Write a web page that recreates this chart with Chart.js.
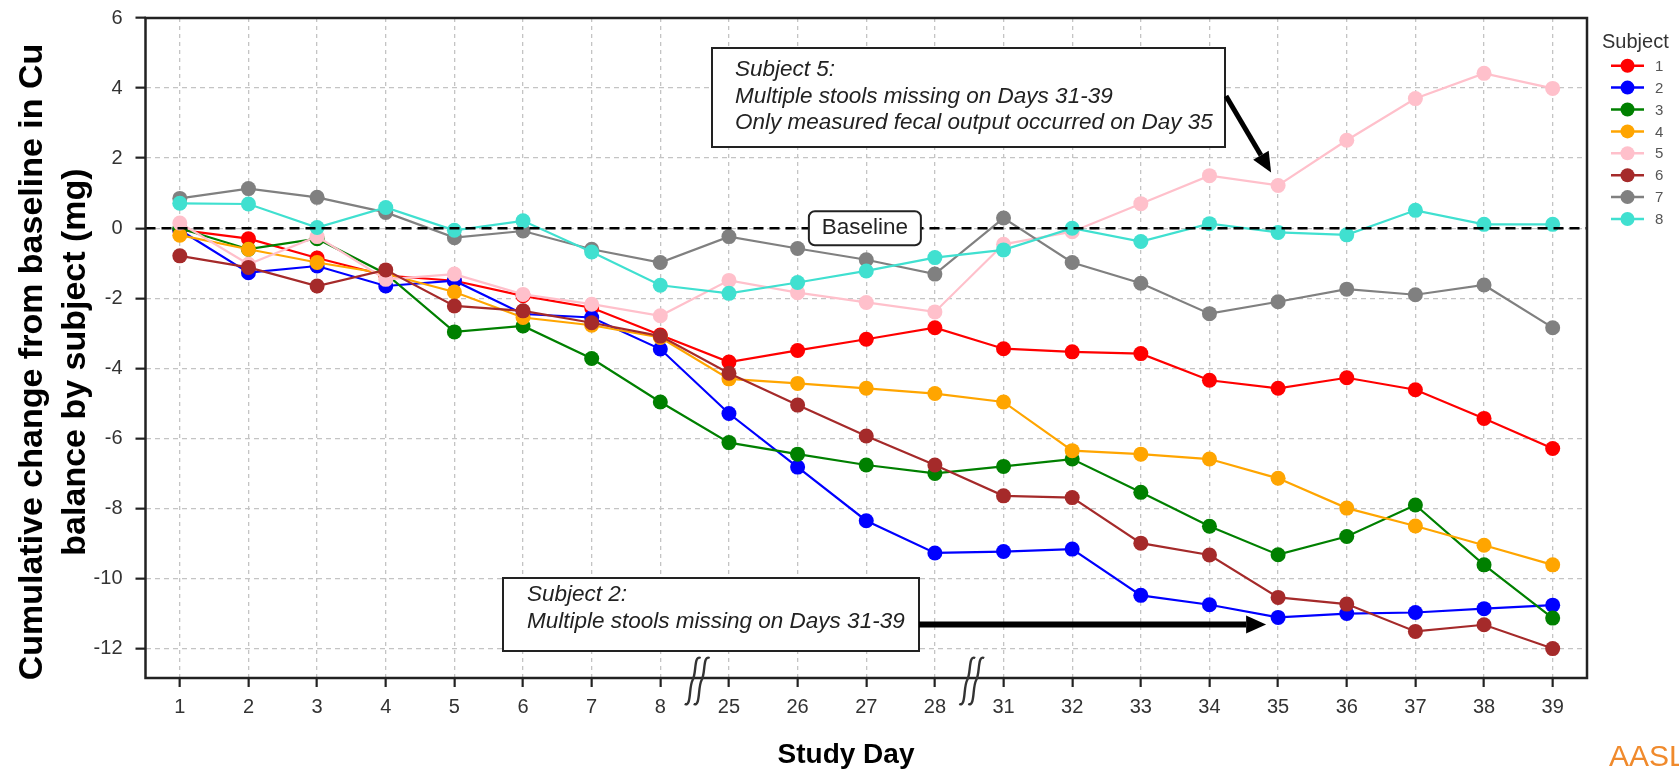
<!DOCTYPE html>
<html>
<head>
<meta charset="utf-8">
<script src="https://cdn.jsdelivr.net/npm/chart.js@4.4.1/dist/chart.umd.min.js"></script>
<style>
  html, body { margin: 0; padding: 0; background: #fff; }
  #wrap { width: 1679px; height: 773px; position: relative; }
</style>
</head>
<body>
<div id="wrap"><canvas id="cuChart" width="1679" height="773"></canvas></div>
<script>
// study days shown on the broken x axis
const days = [1, 2, 3, 4, 5, 6, 7, 8, 25, 26, 27, 28, 31, 32, 33, 34, 35, 36, 37, 38, 39];
const yTicks = [-12, -10, -8, -6, -4, -2, 0, 2, 4, 6];
const subjects = ["1", "2", "3", "4", "5", "6", "7", "8"];
const colors = ["#ff0000", "#0000ff", "#008000", "#ffa500", "#ffc0cb", "#a52a2a", "#808080", "#40e0d0"];

// cumulative change from baseline (mg), one array per subject
const subj1 = [-0.05, -0.3, -0.85, -1.35, -1.5, -1.93, -2.27, -3.05, -3.82, -3.49, -3.17, -2.84, -3.44, -3.53, -3.58, -4.34, -4.57, -4.27, -4.61, -5.43, -6.29];
const subj2 = [-0.05, -1.27, -1.08, -1.65, -1.5, -2.45, -2.55, -3.45, -5.29, -6.82, -8.35, -9.27, -9.23, -9.16, -10.48, -10.75, -11.11, -11.0, -10.97, -10.86, -10.76];
const subj3 = [0.0, -0.6, -0.3, -1.3, -2.96, -2.79, -3.72, -4.96, -6.12, -6.45, -6.76, -7.0, -6.8, -6.59, -7.54, -8.51, -9.32, -8.8, -7.9, -9.61, -11.13];
const subj4 = [-0.2, -0.6, -0.98, -1.3, -1.82, -2.55, -2.77, -3.12, -4.3, -4.43, -4.57, -4.72, -4.96, -6.35, -6.45, -6.59, -7.14, -7.99, -8.5, -9.05, -9.61];
const subj5 = [0.15, -1.03, -0.24, -1.46, -1.31, -1.89, -2.17, -2.5, -1.49, -1.84, -2.12, -2.39, -0.46, -0.1, 0.7, 1.5, 1.22, 2.51, 3.7, 4.42, 3.99];
const subj6 = [-0.79, -1.12, -1.65, -1.19, -2.22, -2.36, -2.7, -3.08, -4.14, -5.05, -5.93, -6.76, -7.64, -7.69, -8.99, -9.33, -10.54, -10.73, -11.51, -11.32, -12.0];
const subj7 = [0.85, 1.13, 0.88, 0.45, -0.27, -0.08, -0.6, -0.98, -0.24, -0.58, -0.9, -1.31, 0.29, -0.98, -1.57, -2.44, -2.1, -1.74, -1.9, -1.62, -2.84];
const subj8 = [0.71, 0.69, 0.02, 0.59, -0.06, 0.21, -0.68, -1.63, -1.86, -1.55, -1.22, -0.84, -0.62, 0.0, -0.38, 0.13, -0.12, -0.19, 0.51, 0.11, 0.11];
const series = [subj1, subj2, subj3, subj4, subj5, subj6, subj7, subj8];

const FONT = "'Liberation Sans', Arial, sans-serif";

// box, arrows, breaks, legend etc
const extras = {
  id: "extras",
  afterDatasetsDraw(chart) {
    const { ctx, chartArea: a, scales: { x, y } } = chart;
    ctx.save();

    // baseline
    ctx.strokeStyle = "#000";
    ctx.lineWidth = 2.6;
    ctx.setLineDash([10, 6]);
    ctx.beginPath();
    ctx.moveTo(a.left, y.getPixelForValue(0));
    ctx.lineTo(a.right, y.getPixelForValue(0));
    ctx.stroke();
    ctx.setLineDash([]);

    // frame
    ctx.strokeStyle = "#222";
    ctx.lineWidth = 2.5;
    ctx.strokeRect(a.left, a.top, a.right - a.left, a.bottom - a.top);

    // axis breaks
    ctx.lineWidth = 2.4;
    ctx.strokeStyle = "#333";
    [7.5, 11.5].forEach(v => {
      const cx = x.getPixelForValue(v) + 3, cy = a.bottom + 2;
      [-5, 4].forEach(off => {
        const bx = cx + off;
        ctx.beginPath();
        ctx.moveTo(bx - 8, cy + 24);
        ctx.bezierCurveTo(bx - 1, cy + 27, bx - 4, cy + 7, bx, cy);
        ctx.bezierCurveTo(bx + 4, cy - 7, bx + 1, cy - 25, bx + 8, cy - 22);
        ctx.stroke();
      });
    });

    // Baseline label
    const bx = x.getPixelForValue(9.98), by = y.getPixelForValue(0);
    ctx.beginPath();
    ctx.roundRect(bx - 56, by - 17, 112, 34, 6);
    ctx.fillStyle = "#fff";
    ctx.fill();
    ctx.lineWidth = 2;
    ctx.strokeStyle = "#222";
    ctx.stroke();
    ctx.fillStyle = "#222";
    ctx.font = "22.5px " + FONT;
    ctx.textAlign = "center";
    ctx.textBaseline = "middle";
    ctx.fillText("Baseline", bx, by);

    // note boxes
    const note = (l, t, r, b, lines, tx, ty0) => {
      ctx.fillStyle = "#fff";
      ctx.fillRect(l, t, r - l, b - t);
      ctx.lineWidth = 2;
      ctx.strokeStyle = "#222";
      ctx.strokeRect(l, t, r - l, b - t);
      ctx.fillStyle = "#222";
      ctx.font = "italic 22.5px " + FONT;
      ctx.textAlign = "left";
      ctx.textBaseline = "middle";
      lines.forEach((s, i) => ctx.fillText(s, tx, ty0 + i * 26.5));
    };
    note(712, 48, 1225, 147, ["Subject 5:", "Multiple stools missing on Days 31-39", "Only measured fecal output occurred on Day 35"], 735, 70);
    note(503, 578, 919, 651, ["Subject 2:", "Multiple stools missing on Days 31-39"], 527, 595);

    const arrow = (x0, y0, x1, y1, w, hl, hw) => {
      const ang = Math.atan2(y1 - y0, x1 - x0);
      const ex = x1 - Math.cos(ang) * hl, ey = y1 - Math.sin(ang) * hl;
      ctx.strokeStyle = "#000";
      ctx.fillStyle = "#000";
      ctx.lineWidth = w;
      ctx.beginPath();
      ctx.moveTo(x0, y0);
      ctx.lineTo(ex, ey);
      ctx.stroke();
      ctx.beginPath();
      ctx.moveTo(x1, y1);
      ctx.lineTo(ex + Math.sin(ang) * hw / 2, ey - Math.cos(ang) * hw / 2);
      ctx.lineTo(ex - Math.sin(ang) * hw / 2, ey + Math.cos(ang) * hw / 2);
      ctx.closePath();
      ctx.fill();
    };
    arrow(1226, 96, x.getPixelForValue(16) - 7, y.getPixelForValue(subj5[16]) - 13, 5, 20, 18);
    const ay = y.getPixelForValue(subj2[16]) + 7;
    arrow(919, ay, x.getPixelForValue(16) - 12, ay, 6, 20, 18);

    ctx.restore();
  },
  afterDraw(chart) {
    const { ctx } = chart;
    ctx.save();
    // axis titles
    ctx.fillStyle = "#000";
    ctx.font = "bold 34px " + FONT;
    ctx.textAlign = "center";
    ctx.textBaseline = "middle";
    ctx.translate(0, 362);
    ctx.rotate(-Math.PI / 2);
    ctx.fillText("Cumulative change from baseline in Cu", 0, 33);
    ctx.fillText("balance by subject (mg)", 0, 76);
    ctx.setTransform(1, 0, 0, 1, 0, 0);
    ctx.font = "bold 28px " + FONT;
    ctx.fillText("Study Day", 846, 755);

    // legend
    ctx.font = "20px " + FONT;
    ctx.fillStyle = "#333";
    ctx.textAlign = "left";
    ctx.fillText("Subject", 1602, 42);
    ctx.font = "15px " + FONT;
    subjects.forEach((s, i) => {
      const ly = 65.7 + i * 21.9;
      ctx.strokeStyle = colors[i];
      ctx.lineWidth = 2.5;
      ctx.beginPath();
      ctx.moveTo(1611, ly);
      ctx.lineTo(1644, ly);
      ctx.stroke();
      ctx.fillStyle = colors[i];
      ctx.beginPath();
      ctx.arc(1627.5, ly, 7, 0, Math.PI * 2);
      ctx.fill();
      ctx.fillStyle = "#555";
      ctx.fillText(s, 1655, ly + 1);
    });

    ctx.fillStyle = "#f08a2c";
    ctx.font = "30px " + FONT;
    ctx.textBaseline = "alphabetic";
    ctx.fillText("AASLD", 1609, 766);
    ctx.restore();
  }
};

const ctx = document.getElementById("cuChart").getContext("2d");
new Chart(ctx, {
  type: "line",
  data: {
    datasets: series.map((vals, i) => ({
      label: subjects[i],
      data: vals.map((v, j) => ({ x: j, y: v })),
      borderColor: colors[i],
      backgroundColor: colors[i],
      pointBackgroundColor: colors[i],
      pointBorderColor: colors[i],
      borderWidth: 2.2,
      pointRadius: 7.5,
      pointBorderWidth: 0,
      tension: 0,
      order: 8 - i
    }))
  },
  options: {
    responsive: false,
    animation: false,
    devicePixelRatio: 1,
    layout: { padding: { left: 0, right: 92, top: 18, bottom: 0 } },
    plugins: { legend: { display: false }, tooltip: { enabled: false } },
    scales: {
      x: {
        type: "linear",
        min: -0.5,
        max: 20.5,
        afterBuildTicks: s => { s.ticks = days.map((d, i) => ({ value: i })); },
        afterFit: s => { s.height = 95; s.paddingLeft = 0; s.paddingRight = 0; },
        ticks: {
          callback: v => days[v],
          font: { size: 20, family: FONT },
          color: "#333",
          padding: 8,
          maxRotation: 0
        },
        grid: {
          color: "#c4c4c4",
          lineWidth: 1.3,
          borderDash: [4, 4],
          tickColor: "#222",
          tickLength: 9,
          tickWidth: 2.2,
          tickBorderDash: []
        },
        border: { display: false, dash: [4, 4] }
      },
      y: {
        min: -12.84,
        max: 6,
        afterBuildTicks: s => { s.ticks = yTicks.map(v => ({ value: v })); },
        afterFit: s => { s.width = 145.5; s.paddingTop = 0; s.paddingBottom = 0; },
        ticks: {
          callback: v => String(v),
          font: { size: 20, family: FONT },
          color: "#333",
          padding: 13
        },
        grid: {
          color: "#c4c4c4",
          lineWidth: 1.3,
          borderDash: [5, 4],
          tickColor: "#222",
          tickLength: 10,
          tickWidth: 2.2,
          tickBorderDash: []
        },
        border: { display: false, dash: [5, 4] }
      }
    }
  },
  plugins: [extras]
});
</script>
</body>
</html>
